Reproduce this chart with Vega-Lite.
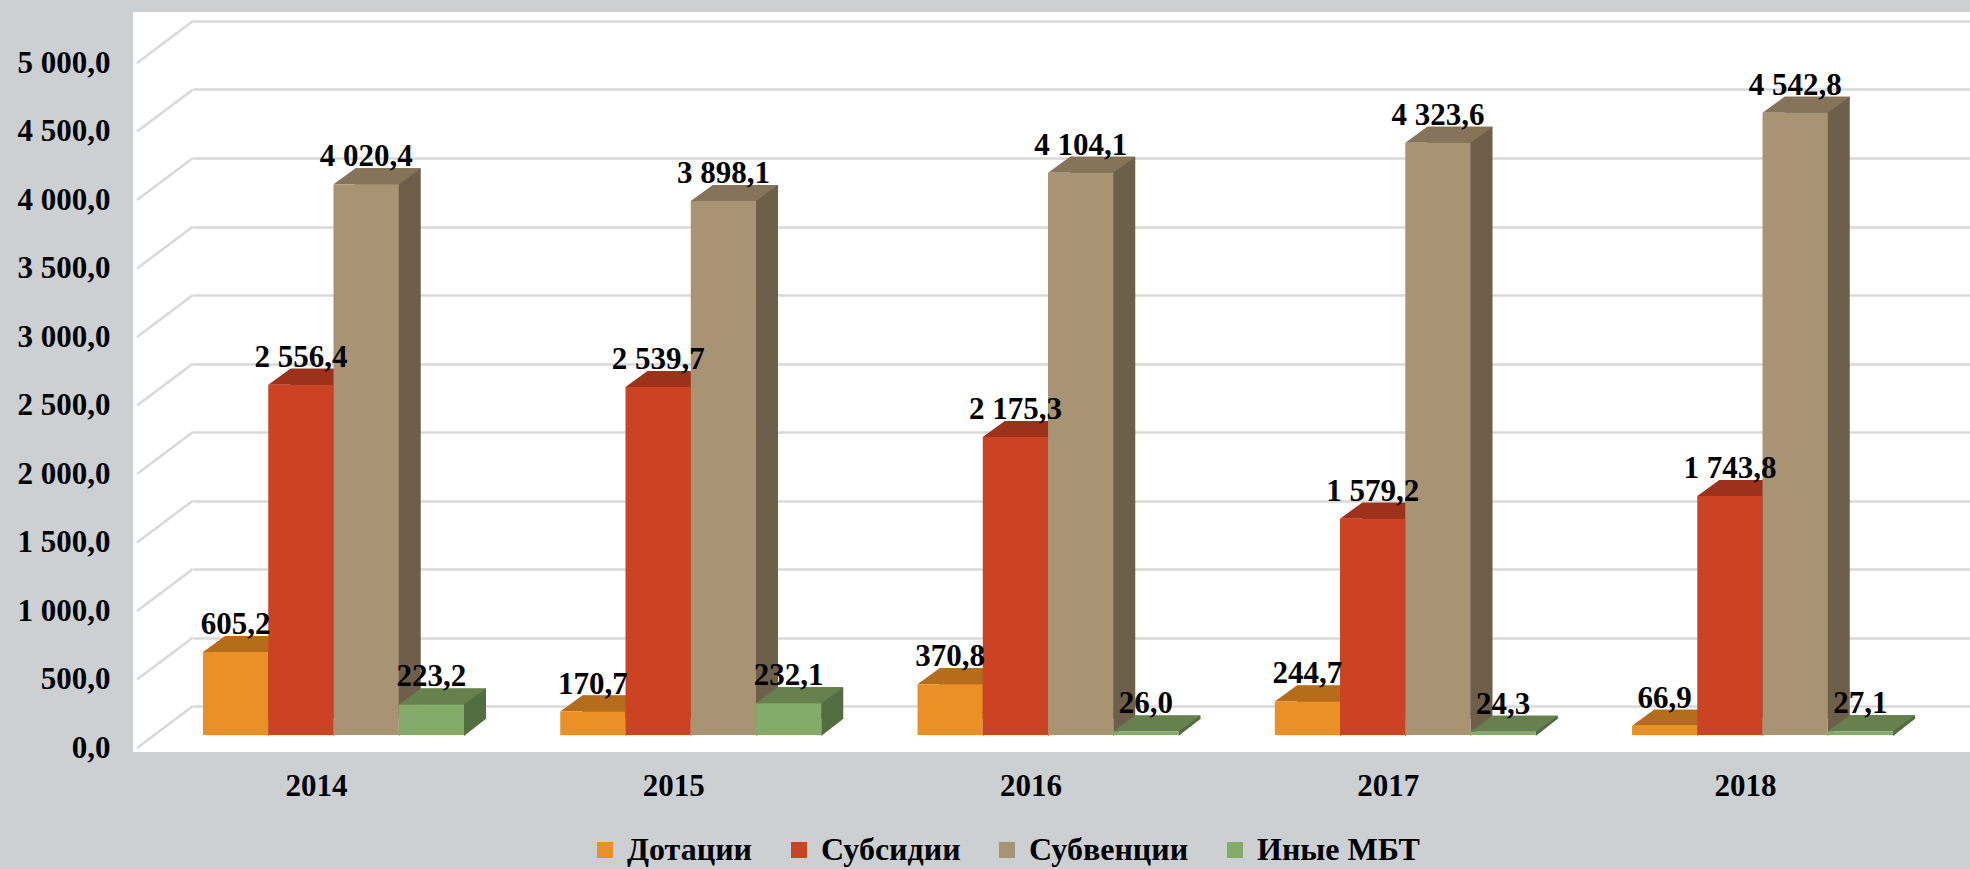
{
  "$schema": "https://vega.github.io/schema/vega-lite/v6.json",
  "autosize": {"type": "none"},
  "width": 1837,
  "height": 740,
  "padding": {"left": 133, "top": 12, "right": 0, "bottom": 117},
  "background": "#cdd0d2",
  "config": {
    "locale": {"number": {"decimal": ",", "thousands": " ", "grouping": [3], "currency": ["", ""]}},
    "view": {"fill": "white", "stroke": null},
    "font": "Liberation Serif"
  },
  "datasets": {
    "mbt": [
      {"year": "2014", "series": "Дотации", "value": 605.2},
      {"year": "2014", "series": "Субсидии", "value": 2556.4},
      {"year": "2014", "series": "Субвенции", "value": 4020.4},
      {"year": "2014", "series": "Иные МБТ", "value": 223.2},
      {"year": "2015", "series": "Дотации", "value": 170.7},
      {"year": "2015", "series": "Субсидии", "value": 2539.7},
      {"year": "2015", "series": "Субвенции", "value": 3898.1},
      {"year": "2015", "series": "Иные МБТ", "value": 232.1},
      {"year": "2016", "series": "Дотации", "value": 370.8},
      {"year": "2016", "series": "Субсидии", "value": 2175.3},
      {"year": "2016", "series": "Субвенции", "value": 4104.1},
      {"year": "2016", "series": "Иные МБТ", "value": 26.0},
      {"year": "2017", "series": "Дотации", "value": 244.7},
      {"year": "2017", "series": "Субсидии", "value": 1579.2},
      {"year": "2017", "series": "Субвенции", "value": 4323.6},
      {"year": "2017", "series": "Иные МБТ", "value": 24.3},
      {"year": "2018", "series": "Дотации", "value": 66.9},
      {"year": "2018", "series": "Субсидии", "value": 1743.8},
      {"year": "2018", "series": "Субвенции", "value": 4542.8},
      {"year": "2018", "series": "Иные МБТ", "value": 27.1}
    ],
    "grid": [
      {"v": 0}, {"v": 500}, {"v": 1000}, {"v": 1500}, {"v": 2000}, {"v": 2500},
      {"v": 3000}, {"v": 3500}, {"v": 4000}, {"v": 4500}, {"v": 5000}
    ]
  },
  "resolve": {"scale": {"color": "independent", "xOffset": "independent"}},
  "encoding": {
    "x": {
      "field": "year", "type": "nominal",
      "scale": {"range": [60, 1837], "paddingInner": 0.2694, "paddingOuter": 0.1217, "align": 0.115},
      "axis": {
        "title": null, "domain": false, "ticks": false, "tickSize": 0, "grid": false,
        "labelAngle": 0, "labelPadding": 19, "labelOffset": -17,
        "labelFont": "Liberation Serif", "labelFontWeight": "bold", "labelFontSize": 31, "labelColor": "#000000"
      }
    }
  },
  "layer": [
    {
      "data": {"name": "grid"},
      "mark": {"type": "point", "shape": "M-1,0.75L1,-0.75", "size": 3136, "filled": false, "stroke": "#d9d9d9", "strokeWidth": 2.5, "opacity": 1, "xOffset": -38, "yOffset": -8},
      "encoding": {
        "x": {"datum": "2014", "bandPosition": 0},
        "y": {
          "field": "v", "type": "quantitative",
          "scale": {"domain": [0, 5000], "range": [723, 38], "nice": false, "zero": true},
          "axis": {
            "title": null, "domain": false, "ticks": false, "tickSize": 0,
            "grid": true, "gridColor": "#d9d9d9", "gridWidth": 2.5,
            "values": [0, 500, 1000, 1500, 2000, 2500, 3000, 3500, 4000, 4500, 5000],
            "format": ",.1f", "tickOffset": -29, "labelOffset": 42, "labelPadding": 23,
            "labelFont": "Liberation Serif", "labelFontWeight": "bold", "labelFontSize": 31, "labelColor": "#000000"
          }
        }
      }
    },
    {
      "data": {"name": "mbt"},
      "mark": {"type": "bar", "yOffset": -16, "y2Offset": -16},
      "encoding": {
        "xOffset": {"field": "series", "type": "nominal", "scale": {"domain": ["Дотации", "Субсидии", "Субвенции", "Иные МБТ"], "range": [22, 283], "paddingInner": 0, "paddingOuter": 0}},
        "y": {"field": "value", "type": "quantitative"},
        "color": {"field": "series", "type": "nominal", "legend": null,
          "scale": {"domain": ["Дотации", "Субсидии", "Субвенции", "Иные МБТ"], "range": ["#8f5516", "#7a2715", "#6e5f4b", "#526e40"]}}
      }
    },
    {
      "data": {"name": "mbt"},
      "mark": {"type": "point", "shape": "M0.652,0.02L0.652,-0.33L1.1,-0.33Z", "size": 10000, "filled": true, "opacity": 1, "strokeWidth": 0},
      "encoding": {
        "xOffset": {"field": "series", "type": "nominal", "scale": {"domain": ["Дотации", "Субсидии", "Субвенции", "Иные МБТ"]}},
        "y": {"datum": 0},
        "color": {"field": "series", "type": "nominal", "legend": null,
          "scale": {"domain": ["Дотации", "Субсидии", "Субвенции", "Иные МБТ"], "range": ["#8f5516", "#7a2715", "#6e5f4b", "#526e40"]}}
      }
    },
    {
      "data": {"name": "mbt"},
      "mark": {"type": "point", "shape": "M-0.6525,0L0.6525,0L1.0925,-0.32L-0.2125,-0.32Z", "size": 10000, "filled": true, "opacity": 1, "strokeWidth": 0},
      "encoding": {
        "xOffset": {"field": "series", "type": "nominal", "scale": {"domain": ["Дотации", "Субсидии", "Субвенции", "Иные МБТ"]}},
        "y": {"field": "value", "type": "quantitative"},
        "color": {"field": "series", "type": "nominal", "legend": null,
          "scale": {"domain": ["Дотации", "Субсидии", "Субвенции", "Иные МБТ"], "range": ["#b56d1b", "#9e3119", "#85745a", "#67804d"]}}
      }
    },
    {
      "data": {"name": "mbt"},
      "mark": {"type": "bar"},
      "encoding": {
        "xOffset": {"field": "series", "type": "nominal", "scale": {"domain": ["Дотации", "Субсидии", "Субвенции", "Иные МБТ"]}},
        "y": {"field": "value", "type": "quantitative"},
        "color": {"field": "series", "type": "nominal",
          "scale": {"domain": ["Дотации", "Субсидии", "Субвенции", "Иные МБТ"], "range": ["#eb9025", "#cc4324", "#a89373", "#84ab69"]},
          "legend": {
            "title": null, "orient": "none", "legendX": 456, "legendY": 822,
            "direction": "horizontal", "columns": 4, "columnPadding": 30,
            "symbolType": "square", "symbolSize": 256, "symbolStrokeWidth": 0, "symbolOpacity": 1,
            "labelFont": "Liberation Serif", "labelFontWeight": "bold", "labelFontSize": 32, "labelColor": "#000000",
            "labelOffset": 6, "labelLimit": 400
          }
        }
      }
    },
    {
      "data": {"name": "mbt"},
      "mark": {"type": "text", "baseline": "alphabetic", "align": "center", "dy": -18, "font": "Liberation Serif", "fontWeight": "bold", "fontSize": 31, "color": "#000000"},
      "encoding": {
        "xOffset": {"field": "series", "type": "nominal", "scale": {"domain": ["Дотации", "Субсидии", "Субвенции", "Иные МБТ"]}},
        "y": {"field": "value", "type": "quantitative"},
        "text": {"field": "value", "type": "quantitative", "format": ",.1f"}
      }
    }
  ]
}
